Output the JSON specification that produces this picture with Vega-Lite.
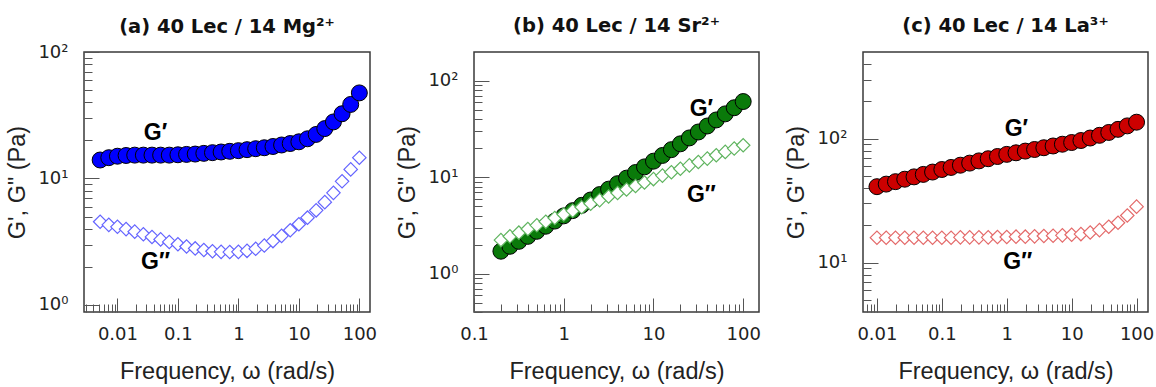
{
"$schema": "https://vega.github.io/schema/vega-lite/v6.json",
"padding": {"left": 5, "top": 14, "right": 5, "bottom": 0},
"bounds": "flush",
"spacing": 104,
"config": {
 "font": "Liberation Sans",
 "view": {"stroke": "#3a3a3a", "strokeWidth": 1.5},
 "axis": {"domain": false, "grid": false, "labelFont": "DejaVu Sans", "labelFontSize": 18, "labelColor": "#222", "titleFont": "Liberation Sans", "titleFontSize": 23.5, "titleFontWeight": "normal", "titleColor": "#222", "tickColor": "#555", "tickWidth": 1, "labelFlush": false, "labelOverlap": false},
 "title": {"font": "DejaVu Sans", "fontSize": 19.5, "fontWeight": "bold", "color": "#111", "offset": 16, "frame": "group", "anchor": "middle"}
},
"hconcat": [
{
 "width": 286, "height": 260,
 "title": {"text": "(a) 40 Lec / 14 Mg²⁺", "offset": 6},
 "data": {"values": [
  {"f":0.005179,"G":14.0,"s":"Gp"},{"f":0.007197,"G":14.6,"s":"Gp"},{"f":0.01,"G":15.0,"s":"Gp"},{"f":0.01389,"G":15.2,"s":"Gp"},{"f":0.01931,"G":15.3,"s":"Gp"},{"f":0.02683,"G":15.3,"s":"Gp"},{"f":0.03728,"G":15.3,"s":"Gp"},{"f":0.05179,"G":15.3,"s":"Gp"},{"f":0.07197,"G":15.3,"s":"Gp"},{"f":0.1,"G":15.4,"s":"Gp"},{"f":0.1389,"G":15.5,"s":"Gp"},{"f":0.1931,"G":15.6,"s":"Gp"},{"f":0.2683,"G":15.8,"s":"Gp"},{"f":0.3728,"G":16.0,"s":"Gp"},{"f":0.5179,"G":16.2,"s":"Gp"},{"f":0.7197,"G":16.4,"s":"Gp"},{"f":1,"G":16.6,"s":"Gp"},{"f":1.389,"G":16.9,"s":"Gp"},{"f":1.931,"G":17.2,"s":"Gp"},{"f":2.683,"G":17.5,"s":"Gp"},{"f":3.728,"G":17.9,"s":"Gp"},{"f":5.179,"G":18.4,"s":"Gp"},{"f":7.197,"G":18.9,"s":"Gp"},{"f":10,"G":19.5,"s":"Gp"},{"f":13.89,"G":20.6,"s":"Gp"},{"f":19.31,"G":22.3,"s":"Gp"},{"f":26.83,"G":24.8,"s":"Gp"},{"f":37.28,"G":28.0,"s":"Gp"},{"f":51.79,"G":32.5,"s":"Gp"},{"f":71.97,"G":38.5,"s":"Gp"},{"f":100,"G":47.5,"s":"Gp"},
  {"f":0.005179,"G":4.55,"s":"Gpp"},{"f":0.007197,"G":4.30,"s":"Gpp"},{"f":0.01,"G":4.15,"s":"Gpp"},{"f":0.01389,"G":3.98,"s":"Gpp"},{"f":0.01931,"G":3.80,"s":"Gpp"},{"f":0.02683,"G":3.62,"s":"Gpp"},{"f":0.03728,"G":3.45,"s":"Gpp"},{"f":0.05179,"G":3.30,"s":"Gpp"},{"f":0.07197,"G":3.15,"s":"Gpp"},{"f":0.1,"G":3.02,"s":"Gpp"},{"f":0.1389,"G":2.90,"s":"Gpp"},{"f":0.1931,"G":2.80,"s":"Gpp"},{"f":0.2683,"G":2.72,"s":"Gpp"},{"f":0.3728,"G":2.66,"s":"Gpp"},{"f":0.5179,"G":2.63,"s":"Gpp"},{"f":0.7197,"G":2.62,"s":"Gpp"},{"f":1,"G":2.63,"s":"Gpp"},{"f":1.389,"G":2.68,"s":"Gpp"},{"f":1.931,"G":2.78,"s":"Gpp"},{"f":2.683,"G":2.95,"s":"Gpp"},{"f":3.728,"G":3.2,"s":"Gpp"},{"f":5.179,"G":3.52,"s":"Gpp"},{"f":7.197,"G":3.9,"s":"Gpp"},{"f":10,"G":4.35,"s":"Gpp"},{"f":13.89,"G":4.9,"s":"Gpp"},{"f":19.31,"G":5.6,"s":"Gpp"},{"f":26.83,"G":6.5,"s":"Gpp"},{"f":37.28,"G":7.7,"s":"Gpp"},{"f":51.79,"G":9.5,"s":"Gpp"},{"f":71.97,"G":11.8,"s":"Gpp"},{"f":100,"G":14.6,"s":"Gpp"},
  {"f":0.0425,"G":22.9,"s":"lab","t":"G′"},{"f":0.0425,"G":2.19,"s":"lab","t":"G″"}
 ]},
 "encoding": {
  "x": {"field": "f", "type": "quantitative", "scale": {"type": "log", "domain": [0.0028, 150], "nice": false},
   "axis": {"title": "Frequency, ω (rad/s)", "titlePadding": 10, "labelPadding": 27,
    "values": [0.003,0.004,0.005,0.006,0.007,0.008,0.009,0.01,0.02,0.03,0.04,0.05,0.06,0.07,0.08,0.09,0.1,0.2,0.3,0.4,0.5,0.6,0.7,0.8,0.9,1,2,3,4,5,6,7,8,9,10,20,30,40,50,60,70,80,90,100],
    "labelExpr": "abs(log(datum.value)/LN10 - round(log(datum.value)/LN10)) < 0.001 ? format(datum.value, '~g') : ''",
    "tickSize": {"condition": {"test": "abs(log(datum.value)/LN10 - round(log(datum.value)/LN10)) < 0.001", "value": -14}, "value": -8}}},
  "y": {"field": "G", "type": "quantitative", "scale": {"type": "log", "domain": [0.88, 100], "nice": false},
   "axis": {"title": "G', G\" (Pa)", "titlePadding": 8, "labelPadding": 31,
    "values": [1,2,3,4,5,6,7,8,9,10,20,30,40,50,60,70,80,90,100],
    "labelExpr": "abs(log(datum.value)/LN10 - round(log(datum.value)/LN10)) < 0.001 ? '10' + ['⁰','¹','²','³'][round(log(datum.value)/LN10)] : ''",
    "tickSize": {"condition": {"test": "abs(log(datum.value)/LN10 - round(log(datum.value)/LN10)) < 0.001", "value": -15}, "value": -8}}}
 },
 "layer": [
  {"transform": [{"filter": "datum.s == 'Gp'"}], "mark": {"type": "point", "shape": "circle", "filled": true, "size": 255, "fill": "#0000ff", "stroke": "#000000", "strokeWidth": 1, "opacity": 1}},
  {"transform": [{"filter": "datum.s == 'Gpp'"}], "mark": {"type": "point", "shape": "diamond", "filled": true, "size": 180, "fill": "#ffffff", "stroke": "#6464ff", "strokeWidth": 1.2, "opacity": 1}},
  {"transform": [{"filter": "datum.s == 'lab'"}], "mark": {"type": "text", "fontSize": 23, "fontWeight": "bold", "font": "Liberation Sans", "color": "#000000"}, "encoding": {"text": {"field": "t"}}}
 ]
},
{
 "width": 285, "height": 260,
 "title": "(b) 40 Lec / 14 Sr²⁺",
 "data": {"values": [
  {"f":0.1995,"G":1.710,"s":"Gp"},{"f":0.2512,"G":1.923,"s":"Gp"},{"f":0.3162,"G":2.165,"s":"Gp"},{"f":0.3981,"G":2.439,"s":"Gp"},{"f":0.5012,"G":2.752,"s":"Gp"},{"f":0.631,"G":3.108,"s":"Gp"},{"f":0.7943,"G":3.515,"s":"Gp"},{"f":1,"G":3.979,"s":"Gp"},{"f":1.259,"G":4.512,"s":"Gp"},{"f":1.585,"G":5.120,"s":"Gp"},{"f":1.995,"G":5.817,"s":"Gp"},{"f":2.512,"G":6.620,"s":"Gp"},{"f":3.162,"G":7.539,"s":"Gp"},{"f":3.981,"G":8.597,"s":"Gp"},{"f":5.012,"G":9.815,"s":"Gp"},{"f":6.31,"G":11.22,"s":"Gp"},{"f":7.943,"G":12.84,"s":"Gp"},{"f":10,"G":14.71,"s":"Gp"},{"f":12.59,"G":16.87,"s":"Gp"},{"f":15.85,"G":19.38,"s":"Gp"},{"f":19.95,"G":22.28,"s":"Gp"},{"f":25.12,"G":25.65,"s":"Gp"},{"f":31.62,"G":29.56,"s":"Gp"},{"f":39.81,"G":34.11,"s":"Gp"},{"f":50.12,"G":39.42,"s":"Gp"},{"f":63.1,"G":45.59,"s":"Gp"},{"f":79.43,"G":52.78,"s":"Gp"},{"f":100,"G":61.21,"s":"Gp"},
  {"f":0.1995,"G":2.232,"s":"Gpp"},{"f":0.2512,"G":2.438,"s":"Gpp"},{"f":0.3162,"G":2.664,"s":"Gpp"},{"f":0.3981,"G":2.909,"s":"Gpp"},{"f":0.5012,"G":3.176,"s":"Gpp"},{"f":0.631,"G":3.464,"s":"Gpp"},{"f":0.7943,"G":3.780,"s":"Gpp"},{"f":1,"G":4.121,"s":"Gpp"},{"f":1.259,"G":4.492,"s":"Gpp"},{"f":1.585,"G":4.895,"s":"Gpp"},{"f":1.995,"G":5.331,"s":"Gpp"},{"f":2.512,"G":5.804,"s":"Gpp"},{"f":3.162,"G":6.318,"s":"Gpp"},{"f":3.981,"G":6.873,"s":"Gpp"},{"f":5.012,"G":7.474,"s":"Gpp"},{"f":6.31,"G":8.126,"s":"Gpp"},{"f":7.943,"G":8.830,"s":"Gpp"},{"f":10,"G":9.593,"s":"Gpp"},{"f":12.59,"G":10.42,"s":"Gpp"},{"f":15.85,"G":11.31,"s":"Gpp"},{"f":19.95,"G":12.27,"s":"Gpp"},{"f":25.12,"G":13.31,"s":"Gpp"},{"f":31.62,"G":14.43,"s":"Gpp"},{"f":39.81,"G":15.65,"s":"Gpp"},{"f":50.12,"G":16.96,"s":"Gpp"},{"f":63.1,"G":18.37,"s":"Gpp"},{"f":79.43,"G":19.89,"s":"Gpp"},{"f":100,"G":21.53,"s":"Gpp"},
  {"f":34.2,"G":50.9,"s":"lab","t":"G′"},{"f":34.2,"G":6.56,"s":"lab","t":"G″"}
 ]},
 "encoding": {
  "x": {"field": "f", "type": "quantitative", "scale": {"type": "log", "domain": [0.1, 150], "nice": false},
   "axis": {"title": "Frequency, ω (rad/s)", "titlePadding": 10, "labelPadding": 27,
    "values": [0.1,0.2,0.3,0.4,0.5,0.6,0.7,0.8,0.9,1,2,3,4,5,6,7,8,9,10,20,30,40,50,60,70,80,90,100],
    "labelExpr": "abs(log(datum.value)/LN10 - round(log(datum.value)/LN10)) < 0.001 ? format(datum.value, '~g') : ''",
    "tickSize": {"condition": {"test": "abs(log(datum.value)/LN10 - round(log(datum.value)/LN10)) < 0.001", "value": -14}, "value": -8}}},
  "y": {"field": "G", "type": "quantitative", "scale": {"type": "log", "domain": [0.4, 200], "nice": false},
   "axis": {"title": "G', G\" (Pa)", "titlePadding": 8, "labelPadding": 31,
    "values": [0.4,0.5,0.6,0.7,0.8,0.9,1,2,3,4,5,6,7,8,9,10,20,30,40,50,60,70,80,90,100],
    "labelExpr": "abs(log(datum.value)/LN10 - round(log(datum.value)/LN10)) < 0.001 ? '10' + ['⁰','¹','²','³'][round(log(datum.value)/LN10)] : ''",
    "tickSize": {"condition": {"test": "abs(log(datum.value)/LN10 - round(log(datum.value)/LN10)) < 0.001", "value": -15}, "value": -8}}}
 },
 "layer": [
  {"transform": [{"filter": "datum.s == 'Gp'"}], "mark": {"type": "point", "shape": "circle", "filled": true, "size": 255, "fill": "#0a7a0a", "stroke": "#000000", "strokeWidth": 1, "opacity": 1}},
  {"transform": [{"filter": "datum.s == 'Gpp'"}], "mark": {"type": "point", "shape": "diamond", "filled": true, "size": 180, "fill": "#ffffff", "stroke": "#5fb45f", "strokeWidth": 1.2, "opacity": 1}},
  {"transform": [{"filter": "datum.s == 'lab'"}], "mark": {"type": "text", "fontSize": 23, "fontWeight": "bold", "font": "Liberation Sans", "color": "#000000"}, "encoding": {"text": {"field": "t"}}}
 ]
},
{
 "width": 285, "height": 260,
 "title": "(c) 40 Lec / 14 La³⁺",
 "data": {"values": [
  {"f":0.01,"G":41.0,"s":"Gp"},{"f":0.01389,"G":43.0,"s":"Gp"},{"f":0.01931,"G":45.0,"s":"Gp"},{"f":0.02683,"G":47.1,"s":"Gp"},{"f":0.03728,"G":49.2,"s":"Gp"},{"f":0.05179,"G":51.5,"s":"Gp"},{"f":0.07197,"G":53.8,"s":"Gp"},{"f":0.1,"G":56.4,"s":"Gp"},{"f":0.1389,"G":58.6,"s":"Gp"},{"f":0.1931,"G":61.1,"s":"Gp"},{"f":0.2683,"G":63.5,"s":"Gp"},{"f":0.3728,"G":66.2,"s":"Gp"},{"f":0.5179,"G":68.9,"s":"Gp"},{"f":0.7197,"G":71.8,"s":"Gp"},{"f":1,"G":74.7,"s":"Gp"},{"f":1.389,"G":76.9,"s":"Gp"},{"f":1.931,"G":79.4,"s":"Gp"},{"f":2.683,"G":81.8,"s":"Gp"},{"f":3.728,"G":84.5,"s":"Gp"},{"f":5.179,"G":87.3,"s":"Gp"},{"f":7.197,"G":90.2,"s":"Gp"},{"f":10,"G":93.1,"s":"Gp"},{"f":13.89,"G":96.6,"s":"Gp"},{"f":19.31,"G":101.2,"s":"Gp"},{"f":26.83,"G":106.4,"s":"Gp"},{"f":37.28,"G":112.2,"s":"Gp"},{"f":51.79,"G":118.9,"s":"Gp"},{"f":71.97,"G":126.8,"s":"Gp"},{"f":100,"G":135.8,"s":"Gp"},
  {"f":0.01,"G":15.9,"s":"Gpp"},{"f":0.01389,"G":15.9,"s":"Gpp"},{"f":0.01931,"G":15.9,"s":"Gpp"},{"f":0.02683,"G":15.9,"s":"Gpp"},{"f":0.03728,"G":15.9,"s":"Gpp"},{"f":0.05179,"G":15.9,"s":"Gpp"},{"f":0.07197,"G":15.9,"s":"Gpp"},{"f":0.1,"G":15.9,"s":"Gpp"},{"f":0.1389,"G":15.9,"s":"Gpp"},{"f":0.1931,"G":16.0,"s":"Gpp"},{"f":0.2683,"G":16.0,"s":"Gpp"},{"f":0.3728,"G":16.0,"s":"Gpp"},{"f":0.5179,"G":16.0,"s":"Gpp"},{"f":0.7197,"G":16.1,"s":"Gpp"},{"f":1,"G":16.1,"s":"Gpp"},{"f":1.389,"G":16.2,"s":"Gpp"},{"f":1.931,"G":16.2,"s":"Gpp"},{"f":2.683,"G":16.3,"s":"Gpp"},{"f":3.728,"G":16.4,"s":"Gpp"},{"f":5.179,"G":16.5,"s":"Gpp"},{"f":7.197,"G":16.6,"s":"Gpp"},{"f":10,"G":16.8,"s":"Gpp"},{"f":13.89,"G":17.0,"s":"Gpp"},{"f":19.31,"G":17.5,"s":"Gpp"},{"f":26.83,"G":18.3,"s":"Gpp"},{"f":37.28,"G":19.5,"s":"Gpp"},{"f":51.79,"G":21.0,"s":"Gpp"},{"f":71.97,"G":24.0,"s":"Gpp"},{"f":100,"G":28.3,"s":"Gpp"},
  {"f":1.41,"G":119.7,"s":"lab","t":"G′"},{"f":1.48,"G":10.06,"s":"lab","t":"G″"}
 ]},
 "encoding": {
  "x": {"field": "f", "type": "quantitative", "scale": {"type": "log", "domain": [0.0061, 150], "nice": false},
   "axis": {"title": "Frequency, ω (rad/s)", "titlePadding": 10, "labelPadding": 27,
    "values": [0.007,0.008,0.009,0.01,0.02,0.03,0.04,0.05,0.06,0.07,0.08,0.09,0.1,0.2,0.3,0.4,0.5,0.6,0.7,0.8,0.9,1,2,3,4,5,6,7,8,9,10,20,30,40,50,60,70,80,90,100],
    "labelExpr": "abs(log(datum.value)/LN10 - round(log(datum.value)/LN10)) < 0.001 ? format(datum.value, '~g') : ''",
    "tickSize": {"condition": {"test": "abs(log(datum.value)/LN10 - round(log(datum.value)/LN10)) < 0.001", "value": -14}, "value": -8}}},
  "y": {"field": "G", "type": "quantitative", "scale": {"type": "log", "domain": [4, 500], "nice": false},
   "axis": {"title": "G', G\" (Pa)", "titlePadding": 8, "labelPadding": 31,
    "values": [5,6,7,8,9,10,20,30,40,50,60,70,80,90,100,200,300,400],
    "labelExpr": "abs(log(datum.value)/LN10 - round(log(datum.value)/LN10)) < 0.001 ? '10' + ['⁰','¹','²','³'][round(log(datum.value)/LN10)] : ''",
    "tickSize": {"condition": {"test": "abs(log(datum.value)/LN10 - round(log(datum.value)/LN10)) < 0.001", "value": -15}, "value": -8}}}
 },
 "layer": [
  {"transform": [{"filter": "datum.s == 'Gp'"}], "mark": {"type": "point", "shape": "circle", "filled": true, "size": 255, "fill": "#cc0000", "stroke": "#000000", "strokeWidth": 1, "opacity": 1}},
  {"transform": [{"filter": "datum.s == 'Gpp'"}], "mark": {"type": "point", "shape": "diamond", "filled": true, "size": 180, "fill": "#ffffff", "stroke": "#e46a6a", "strokeWidth": 1.2, "opacity": 1}},
  {"transform": [{"filter": "datum.s == 'lab'"}], "mark": {"type": "text", "fontSize": 23, "fontWeight": "bold", "font": "Liberation Sans", "color": "#000000"}, "encoding": {"text": {"field": "t"}}}
 ]
}
]
}
